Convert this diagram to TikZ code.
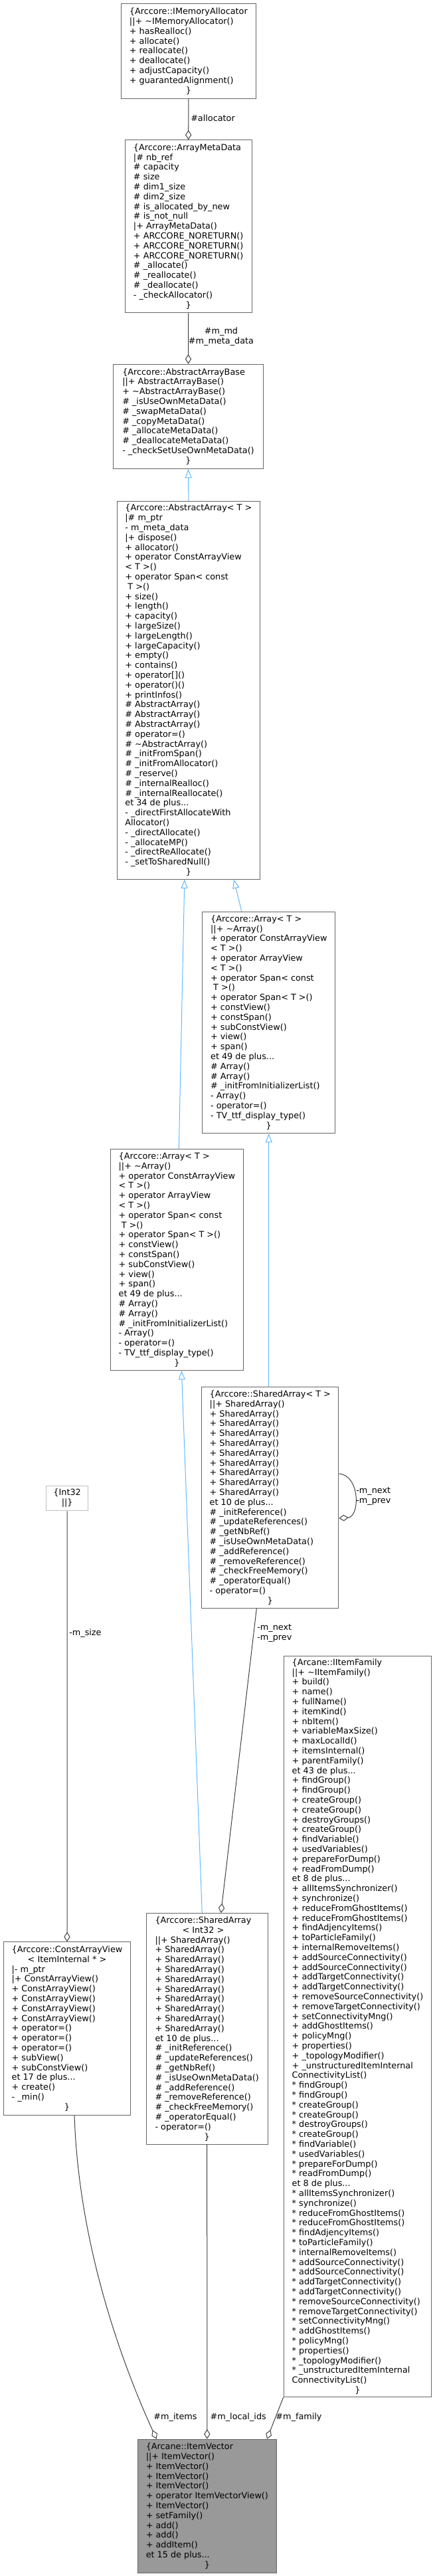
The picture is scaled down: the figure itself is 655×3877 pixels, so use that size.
\documentclass[tikz,border=0pt]{standalone}
\usepackage{fontspec}
\newfontfamily\dvsans{DejaVu Sans}
\usepackage{xcolor}
\usepackage{tikz}
\usetikzlibrary{arrows.meta,calc}

\definecolor{grey25}{HTML}{404040}
\definecolor{grey40}{HTML}{666666}
\definecolor{grey60}{HTML}{999999}
\definecolor{grey75}{HTML}{BFBFBF}
\definecolor{steelblue1}{HTML}{63B8FF}

\newcommand{\centred}[1]{\hspace*{\fill}#1\hspace*{\fill}\null}
\newcommand{\arraybody}{||+ \textasciitilde Array()\\
+ operator ConstArrayView\\
< T >()\\
+ operator ArrayView\\
< T >()\\
+ operator Span< const\\
\ T >()\\
+ operator Span< T >()\\
+ constView()\\
+ constSpan()\\
+ subConstView()\\
+ view()\\
+ span()\\
et 49 de plus...\\
\# Array()\\
\# Array()\\
\# \_initFromInitializerList()\\
- Array()\\
- operator=()\\
- TV\_ttf\_display\_type()\\
\centred{\}}}
\newcommand{\sharedbody}{||+ SharedArray()\\
+ SharedArray()\\
+ SharedArray()\\
+ SharedArray()\\
+ SharedArray()\\
+ SharedArray()\\
+ SharedArray()\\
+ SharedArray()\\
+ SharedArray()\\
+ SharedArray()\\
et 10 de plus...\\
\# \_initReference()\\
\# \_updateReferences()\\
\# \_getNbRef()\\
\# \_isUseOwnMetaData()\\
\# \_addReference()\\
\# \_removeReference()\\
\# \_checkFreeMemory()\\
\# \_operatorEqual()\\
- operator=()\\
\centred{\}}}

\tikzset{
  cls/.style={draw=grey40, fill=white, line width=0.75pt, anchor=north west, align=left, inner sep=0pt, font=\dvsans\fontsize{9.6}{11.1}\selectfont},
  wh/.style 2 args={minimum width=#1*0.75pt, minimum height=#2*0.75pt},
  lbl/.style={inner sep=0pt, align=left, font=\dvsans\fontsize{9.6}{11.1}\selectfont},
  has/.style={grey25, line width=0.75pt, -{Diamond[length=10.9pt, width=7pt, fill=white]}},
  isa/.style={steelblue1, line width=0.75pt, -{Triangle[length=10pt, width=7.5pt, fill=white]}},
}

\begin{document}
\begin{tikzpicture}[x=0.75pt,y=-0.75pt]
\path[fill=white, use as bounding box] (0,0) rectangle (655,3877);

\node[cls, wh={203.3}{143}] (alloc) at (181.7,5) {\centred{\{Arccore::IMemoryAllocator}\\
||+ \textasciitilde IMemoryAllocator()\\
+ hasRealloc()\\
+ allocate()\\
+ reallocate()\\
+ deallocate()\\
+ adjustCapacity()\\
+ guarantedAlignment()\\
\centred{\}}};

\node[cls, wh={191}{260}] (meta) at (187.7,210.3) {\centred{\{Arccore::ArrayMetaData}\\
|\# nb\_ref\\
\# capacity\\
\# size\\
\# dim1\_size\\
\# dim2\_size\\
\# is\_allocated\_by\_new\\
\# is\_not\_null\\
|+ ArrayMetaData()\\
+ ARCCORE\_NORETURN()\\
+ ARCCORE\_NORETURN()\\
+ ARCCORE\_NORETURN()\\
\# \_allocate()\\
\# \_reallocate()\\
\# \_deallocate()\\
- \_checkAllocator()\\
\centred{\}}};

\node[cls, wh={226}{157.3}] (absbase) at (170,547.7) {\centred{\{Arccore::AbstractArrayBase}\\
||+ AbstractArrayBase()\\
+ \textasciitilde AbstractArrayBase()\\
\# \_isUseOwnMetaData()\\
\# \_swapMetaData()\\
\# \_copyMetaData()\\
\# \_allocateMetaData()\\
\# \_deallocateMetaData()\\
- \_checkSetUseOwnMetaData()\\
\centred{\}}};

\node[cls, wh={214.7}{568.7}] (absarr) at (176,754) {\centred{\{Arccore::AbstractArray< T >}\\
|\# m\_ptr\\
- m\_meta\_data\\
|+ dispose()\\
+ allocator()\\
+ operator ConstArrayView\\
< T >()\\
+ operator Span< const\\
\ T >()\\
+ size()\\
+ length()\\
+ capacity()\\
+ largeSize()\\
+ largeLength()\\
+ largeCapacity()\\
+ empty()\\
+ contains()\\
+ operator[]()\\
+ operator()()\\
+ printInfos()\\
\# AbstractArray()\\
\# AbstractArray()\\
\# AbstractArray()\\
\# operator=()\\
\# \textasciitilde AbstractArray()\\
\# \_initFromSpan()\\
\# \_initFromAllocator()\\
\# \_reserve()\\
\# \_internalRealloc()\\
\# \_internalReallocate()\\
et 34 de plus...\\
- \_directFirstAllocateWith\\
Allocator()\\
- \_directAllocate()\\
- \_allocateMP()\\
- \_directReAllocate()\\
- \_setToSharedNull()\\
\centred{\}}};

\node[cls, wh={200}{333.3}] (arrR) at (304.3,1371.7) {\centred{\{Arccore::Array< T >}\\
\arraybody};
\node[cls, wh={200.3}{333}] (arrL) at (165.7,1729) {\centred{\{Arccore::Array< T >}\\
\arraybody};
\node[cls, wh={206}{333}] (shT) at (303.3,2087) {\centred{\{Arccore::SharedArray< T >}\\
\sharedbody};
\node[cls, draw=grey75, align=center, wh={63.3}{37.6}] (int32) at (69,2235.7) {\{Int32\\
||\}};

\node[cls, wh={222.6}{1115}] (family) at (426.7,2492) {\centred{\{Arcane::IItemFamily}\\
||+ \textasciitilde IItemFamily()\\
+ build()\\
+ name()\\
+ fullName()\\
+ itemKind()\\
+ nbItem()\\
+ variableMaxSize()\\
+ maxLocalId()\\
+ itemsInternal()\\
+ parentFamily()\\
et 43 de plus...\\
+ findGroup()\\
+ findGroup()\\
+ createGroup()\\
+ createGroup()\\
+ destroyGroups()\\
+ createGroup()\\
+ findVariable()\\
+ usedVariables()\\
+ prepareForDump()\\
+ readFromDump()\\
et 8 de plus...\\
+ allItemsSynchronizer()\\
+ synchronize()\\
+ reduceFromGhostItems()\\
+ reduceFromGhostItems()\\
+ findAdjencyItems()\\
+ toParticleFamily()\\
+ internalRemoveItems()\\
+ addSourceConnectivity()\\
+ addSourceConnectivity()\\
+ addTargetConnectivity()\\
+ addTargetConnectivity()\\
+ removeSourceConnectivity()\\
+ removeTargetConnectivity()\\
+ setConnectivityMng()\\
+ addGhostItems()\\
+ policyMng()\\
+ properties()\\
+ \_topologyModifier()\\
+ \_unstructuredItemInternal\\
ConnectivityList()\\
{*} findGroup()\\
{*} findGroup()\\
{*} createGroup()\\
{*} createGroup()\\
{*} destroyGroups()\\
{*} createGroup()\\
{*} findVariable()\\
{*} usedVariables()\\
{*} prepareForDump()\\
{*} readFromDump()\\
et 8 de plus...\\
{*} allItemsSynchronizer()\\
{*} synchronize()\\
{*} reduceFromGhostItems()\\
{*} reduceFromGhostItems()\\
{*} findAdjencyItems()\\
{*} toParticleFamily()\\
{*} internalRemoveItems()\\
{*} addSourceConnectivity()\\
{*} addSourceConnectivity()\\
{*} addTargetConnectivity()\\
{*} addTargetConnectivity()\\
{*} removeSourceConnectivity()\\
{*} removeTargetConnectivity()\\
{*} setConnectivityMng()\\
{*} addGhostItems()\\
{*} policyMng()\\
{*} properties()\\
{*} \_topologyModifier()\\
{*} \_unstructuredItemInternal\\
ConnectivityList()\\
\centred{\}}};

\node[cls, wh={191}{260.4}] (cav) at (5,2922.3) {\centred{\{Arccore::ConstArrayView}\\
\centred{< ItemInternal * >}\\
|- m\_ptr\\
|+ ConstArrayView()\\
+ ConstArrayView()\\
+ ConstArrayView()\\
+ ConstArrayView()\\
+ ConstArrayView()\\
+ operator=()\\
+ operator=()\\
+ operator=()\\
+ subView()\\
+ subConstView()\\
et 17 de plus...\\
+ create()\\
- \_min()\\
\centred{\}}};

\node[cls, wh={183}{347.7}] (shI) at (219.7,2879) {\centred{\{Arccore::SharedArray}\\
\centred{< Int32 >}\\
\sharedbody};

\node[cls, fill=grey60, wh={209.3}{201}] (vec) at (206.7,3670.7) {\centred{\{Arcane::ItemVector}\\
||+ ItemVector()\\
+ ItemVector()\\
+ ItemVector()\\
+ ItemVector()\\
+ operator ItemVectorView()\\
+ ItemVector()\\
+ setFamily()\\
+ add()\\
+ add()\\
+ addItem()\\
et 15 de plus...\\
\centred{\}}};

\draw[has] (alloc.south) -- (meta.north);
\node[lbl, anchor=west] (lallocator) at (287,178) {\#allocator};
\draw[has] (meta.south) -- (absbase.north);
\node[lbl, align=center] (lmetadata) at (333,507) {\#m\_md\\\#m\_meta\_data};
\draw[isa] (absarr.north) -- (absbase.south);
\draw[isa] ($(arrL.north)+(3,0)$) -- ($(absarr.south)+(-6,0)$);
\draw[isa] ($(arrR.north)+(-41,0)$) -- ($(absarr.south)+(68.3,0)$);
\draw[isa] (shT.north -| arrR.south) -- (arrR.south);
\draw[isa] ($(shI.north west)+(84.6,0)$) -- ($(arrL.south)+(7,0)$);
\draw[has] ($(shT.north east)+(0,131)$) .. controls ($(shT.north east)+(32,133)$) and ($(shT.north east)+(32,196)$) .. ($(shT.north east)+(0,198)$);
\node[lbl, anchor=west] (lselfnext) at (536,2252) {-m\_next\\-m\_prev};
\draw[has] ($(shT.south west)+(83,0)$) -- ($(shI.north west)+(113,0)$);
\node[lbl, anchor=west] (lnext) at (387,2458) {-m\_next\\-m\_prev};
\draw[has] (int32.south) -- (cav.north);
\node[lbl, anchor=west] (lsize) at (104,2458) {-m\_size};
\draw[has] ($(cav.south)+(11,0)$) .. controls ($(cav.south)+(17.5,197)$) and ($(vec.north west)+(-21.7,-110.7)$) .. ($(vec.north west)+(29,0)$);
\node[lbl] (litems) at (264,3638) {\#m\_items};
\draw[has] (shI.south) -- (vec.north);
\node[lbl] (llocalids) at (358.7,3638) {\#m\_local\_ids};
\draw[has] (family.south west) -- ($(vec.north east)+(-15,0)$);
\node[lbl] (lfamily) at (450,3638) {\#m\_family};
\end{tikzpicture}
\end{document}
